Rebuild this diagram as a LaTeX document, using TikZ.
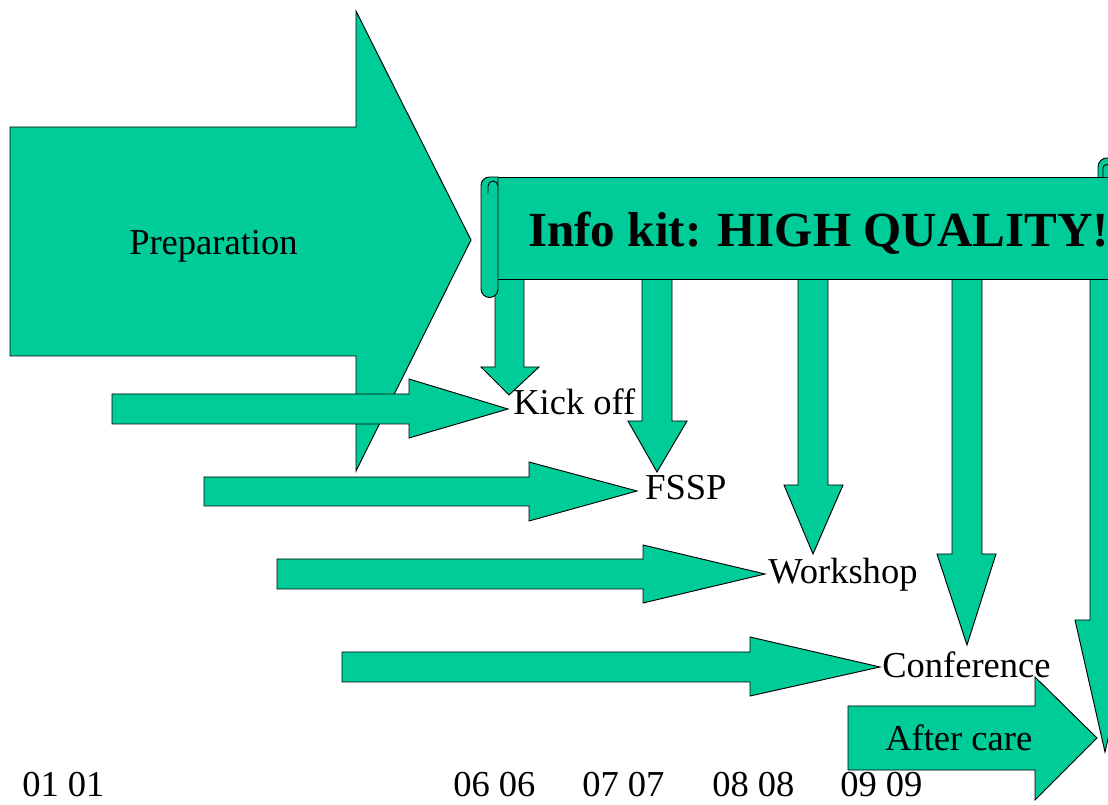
\documentclass[tikz,border=0pt]{standalone}
\usepackage{fontspec}
\setmainfont{Liberation Serif}
\definecolor{teal0}{RGB}{0,204,153}
\begin{document}
\begin{tikzpicture}[x=0.75pt,y=-0.75pt,
  shp/.style={fill=teal0, draw=black, line width=0.7pt, line join=miter},
  lbl/.style={anchor=base west, inner sep=0pt, font=\fontsize{27.4}{30}\selectfont},
  ttl/.style={anchor=base west, inner sep=0pt, font=\fontsize{36.8}{40}\selectfont\bfseries}]
\useasboundingbox (0,0) rectangle (1108,805);
\clip (0,0) rectangle (1108,805);
% big preparation arrow
\path[shp] (10,127) -- (356,127) -- (356,11) -- (471,240) -- (356,471) -- (356,356) -- (10,356) -- cycle;
% down arrows from the scroll
\path[shp] (495,270) -- (524,270) -- (524,367) -- (539,367) -- (509,395) -- (481,367) -- (495,367) -- cycle;
\path[shp] (642,270) -- (672,270) -- (672,421) -- (687,421) -- (657,472) -- (628,421) -- (642,421) -- cycle;
\path[shp] (798,270) -- (828,270) -- (828,485) -- (843,485) -- (813,554) -- (784,485) -- (798,485) -- cycle;
\path[shp] (952,270) -- (982,270) -- (982,554) -- (996,554) -- (967,645) -- (937,554) -- (952,554) -- cycle;
\path[shp] (1090,270) -- (1120,270) -- (1120,620) -- (1135,620) -- (1105,752) -- (1075,620) -- (1090,620) -- cycle;
% scroll band
\path[shp] (489,177) rectangle (1125,279);
% left roll
\path[shp] (498,177) -- (498,289) arc[start angle=0,end angle=180,radius=8.5] -- (481,185.5) arc[start angle=180,end angle=270,radius=8.5] -- cycle;
\draw[line width=0.7pt] (488,193) -- (488,186) arc[start angle=180,end angle=360,radius=5];
% right roll top
\fill[teal0] (1098,177) -- (1098,167) arc[start angle=180,end angle=270,radius=9] -- (1125,158) -- (1125,177) -- cycle;
\draw[line width=0.7pt] (1098,177) -- (1098,167) arc[start angle=180,end angle=270,radius=9] -- (1125,158);
\draw[line width=0.7pt] (1103,177) -- (1103,168) arc[start angle=180,end angle=360,radius=3.5] -- (1110,172);
% horizontal arrows
\path[shp] (112,394) -- (409,394) -- (409,379) -- (508,409) -- (409,438) -- (409,424) -- (112,424) -- cycle;
\path[shp] (204,477) -- (529,477) -- (529,462) -- (637,491) -- (529,521) -- (529,506) -- (204,506) -- cycle;
\path[shp] (277,559) -- (643,559) -- (643,545) -- (765,574) -- (643,603) -- (643,589) -- (277,589) -- cycle;
\path[shp] (342,652) -- (750,652) -- (750,637) -- (880,667) -- (750,696) -- (750,682) -- (342,682) -- cycle;
\path[shp] (848,706) -- (1035,706) -- (1035,677) -- (1097,738) -- (1035,800) -- (1035,770) -- (848,770) -- cycle;
% texts
\node[ttl] (title) at (528,247) {Info kit: HIGH QUALITY!};
\node[lbl] (prep) at (129,255) {Preparation};
\node[lbl] (kick) at (513,415) {Kick off};
\node[lbl] (fssp) at (645,500) {FSSP};
\node[lbl] (work) at (768,584) {Workshop};
\node[lbl] (conf) at (882,677) {Conference};
\node[lbl] (after) at (885,750) {After care};
\node[lbl] (d1) at (22,796) {01 01};
\node[lbl] (d6) at (453,796) {06 06};
\node[lbl] (d7) at (582,796) {07 07};
\node[lbl] (d8) at (712,796) {08 08};
\node[lbl] (d9) at (840,796) {09 09};
\end{tikzpicture}
\end{document}
